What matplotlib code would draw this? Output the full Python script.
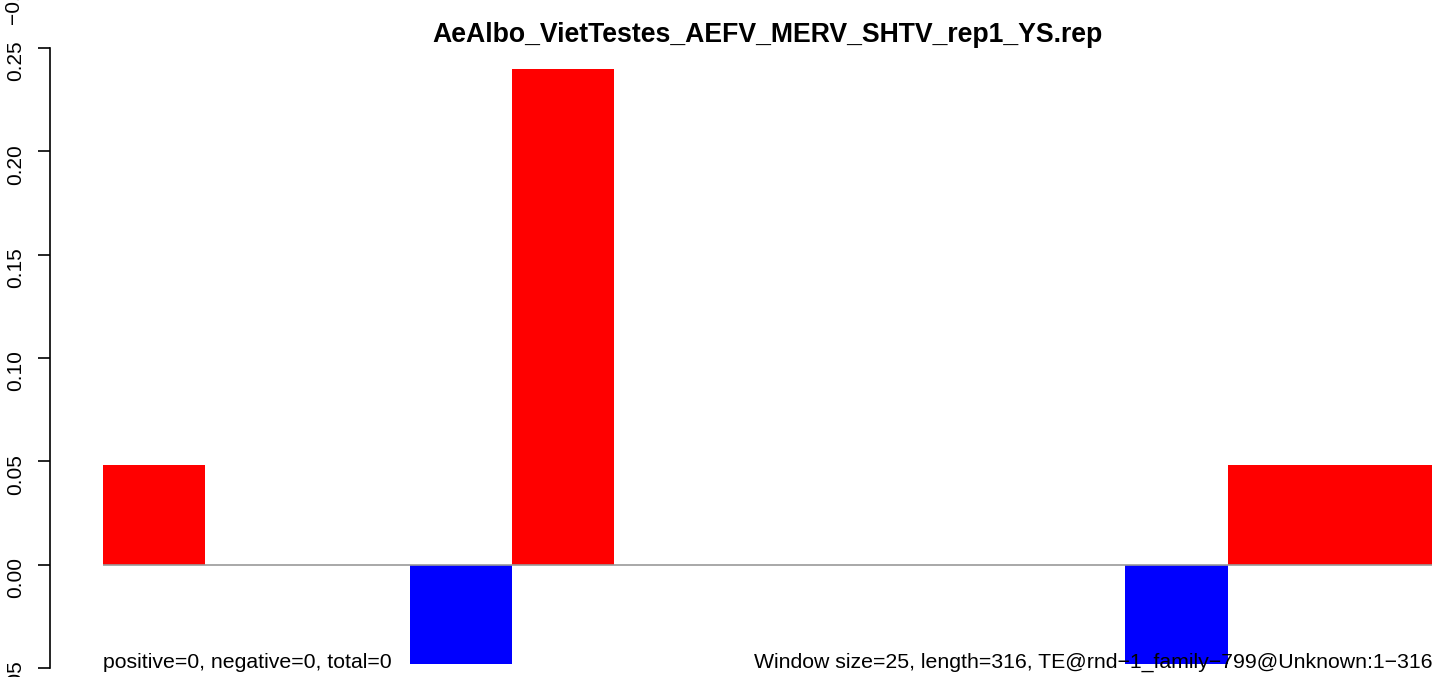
import numpy as np
import matplotlib
matplotlib.use("Agg")
import matplotlib.pyplot as plt

plt.rcParams['font.family'] = ['Liberation Sans', 'DejaVu Sans']

title = "AeAlbo_VietTestes_AEFV_MERV_SHTV_rep1_YS.rep"
values = [0.048, 0, 0, -0.048, 0.24, 0, 0, 0, 0, 0, -0.048, 0.048, 0.048]
yticks = [-0.05, 0.00, 0.05, 0.10, 0.15, 0.20, 0.25]
left_note = "positive=0, negative=0, total=0"
right_note = "Window size=25, length=316, TE@rnd\u22121_family\u2212799@Unknown:1\u2212316"

W, H = 1433, 677
fig = plt.figure(figsize=(W / 100, H / 100), dpi=100)

# axes placed in pixel coords so bars line up with the reference
x0, x1 = 103, 1432
y_top, y_bot = 48, 668
ax = fig.add_axes([x0 / W, (H - y_bot) / H, (x1 - x0) / W, (y_bot - y_top) / H])

n = len(values)
xs = np.arange(n)
cols = ['red' if v > 0 else 'blue' for v in values]
ax.bar(xs, values, width=1.0, align='edge', color=cols, linewidth=0, zorder=2)
ax.axhline(0, color='#999999', lw=1.2, zorder=3)

ax.set_xlim(0, n)
ax.set_ylim(-0.05, 0.25)
ax.set_yticks(yticks)
ax.set_yticklabels(["%.2f" % t for t in yticks])
ax.tick_params(axis='y', length=9, width=1.2, pad=9, labelsize=15, labelrotation=90)
for lab in ax.get_yticklabels():
    lab.set_va('center')
ax.tick_params(axis='x', bottom=False, labelbottom=False)
for s in ['top', 'right', 'bottom']:
    ax.spines[s].set_visible(False)
ax.spines['left'].set_position(('outward', (x0 - 50) * 0.72))
ax.spines['left'].set_linewidth(1.2)

fig.text(767 / W, (H - 42) / H, title, ha='center', va='baseline',
         fontsize=19.2, fontweight='bold')

# notes along the bottom, drawn over the bars
fig.text(x0 / W, (H - 668) / H, left_note, ha='left', va='baseline', fontsize=15.3, zorder=5)
fig.text(1432 / W, (H - 668) / H, right_note, ha='right', va='baseline', fontsize=15.3, zorder=5)

# leftover label of the panel above (cut off at the top edge)
fig.text(14 / W, (H + 3) / H, "\u22120.05", rotation=90, ha='center', va='center', fontsize=15)

fig.savefig("out.png", dpi=100)
